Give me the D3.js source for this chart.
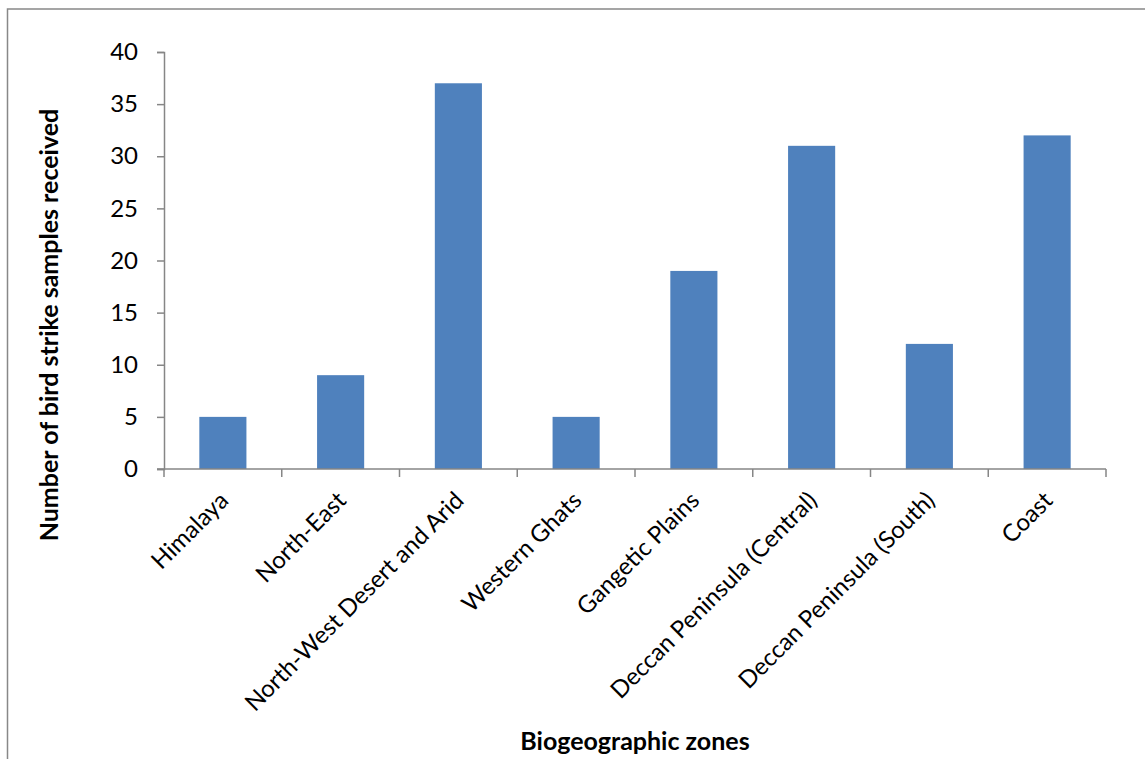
<!DOCTYPE html>
<html>
<head>
<meta charset="utf-8">
<script src="https://cdn.jsdelivr.net/npm/d3@7"></script>
<style>
  html, body { margin: 0; padding: 0; background: #fff; }
  svg { display: block; }
  text { font-family: Lato, "Open Sans", sans-serif; fill: #000; }
</style>
</head>
<body>
<svg id="chart" width="1145" height="759"></svg>
<script>
const categories = ["Himalaya", "North-East", "North-West Desert and Arid", "Western Ghats",
  "Gangetic Plains", "Deccan Peninsula (Central)", "Deccan Peninsula (South)", "Coast"];
const values = [5, 9, 37, 5, 19, 31, 12, 32];
const yTicks = [0, 5, 10, 15, 20, 25, 30, 35, 40];
const yTitle = "Number of bird strike samples received";
const xTitle = "Biogeographic zones";

(function () {
const svg = d3.select("#chart");
const axisColor = "#868686";
const barColor = "#4F81BD";

// outer frame
svg.append("rect").attr("x", 7.5).attr("y", 9).attr("width", 1150).attr("height", 800)
  .attr("fill", "none").attr("stroke", "#888").attr("stroke-width", 1.5);

const pLeft = 164, pRight = 1106, pTop = 52, pBottom = 469;

const x = d3.scaleBand().domain(categories).range([pLeft, pRight]).paddingInner(0.6).paddingOuter(0.3);
const y = d3.scaleLinear().domain([0, 40]).range([pBottom, pTop]);

// bars
svg.append("g").selectAll("rect").data(values).join("rect")
  .attr("x", (d, i) => x(categories[i]))
  .attr("y", d => y(d))
  .attr("width", x.bandwidth())
  .attr("height", d => y(0) - y(d))
  .attr("fill", barColor);

// y axis
const yAxis = svg.append("g").attr("transform", `translate(${pLeft},0)`)
  .call(d3.axisLeft(y).tickValues(yTicks).tickSize(7).tickPadding(19));
yAxis.select(".domain").attr("stroke", axisColor).attr("stroke-width", 1.5);
yAxis.selectAll(".tick line").attr("stroke", axisColor).attr("stroke-width", 1.5);
yAxis.selectAll(".tick text").attr("font-family", "Lato, sans-serif").attr("font-size", 24).attr("fill", "#000");

// x axis line
svg.append("line").attr("x1", pLeft - 7).attr("x2", pRight).attr("y1", pBottom).attr("y2", pBottom)
  .attr("stroke", axisColor).attr("stroke-width", 1.5);
// category boundary ticks
const step = x.step();
const bounds = d3.range(categories.length + 1).map(i => x(categories[0]) - step * 0.3 + i * step);
svg.append("g").selectAll("line").data(bounds).join("line")
  .attr("x1", d => d).attr("x2", d => d).attr("y1", pBottom).attr("y2", pBottom + 8)
  .attr("stroke", axisColor).attr("stroke-width", 1.5);

// category labels
svg.append("g").selectAll("text").data(categories).join("text")
  .attr("transform", d => `translate(${x(d) + x.bandwidth() / 2 + 7},${pBottom + 33}) rotate(-45)`)
  .attr("text-anchor", "end")
  .attr("font-size", 24)
  .text(d => d);

// titles
svg.append("text").attr("x", 635).attr("y", 750).attr("text-anchor", "middle")
  .attr("font-size", 25).attr("font-weight", "bold").text(xTitle);
svg.append("text").attr("transform", `translate(58,325) rotate(-90)`).attr("text-anchor", "middle")
  .attr("font-size", 25).attr("font-weight", "bold").text(yTitle);
})();
</script>
</body>
</html>
